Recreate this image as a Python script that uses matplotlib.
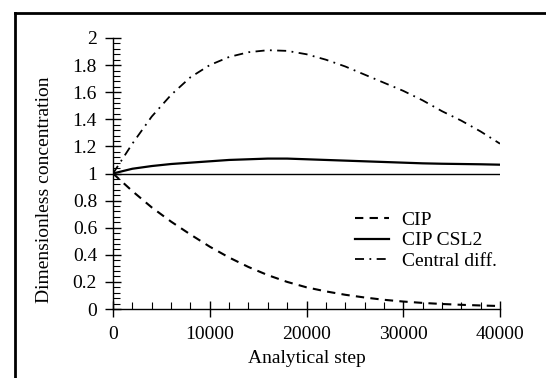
import matplotlib
matplotlib.use("Agg")
import matplotlib.pyplot as plt
from matplotlib.ticker import MultipleLocator
from matplotlib.lines import Line2D

plt.rcParams['font.family'] = ['Liberation Serif', 'DejaVu Serif']

steps = [0, 2000, 4000, 6000, 8000, 10000, 12000, 14000, 16000, 18000, 20000,
         22000, 24000, 26000, 28000, 30000, 32000, 34000, 36000, 38000, 40000]
cip = [1.0, 0.87, 0.75, 0.645, 0.55, 0.46, 0.38, 0.31, 0.25, 0.20, 0.16,
       0.13, 0.105, 0.085, 0.068, 0.055, 0.045, 0.037, 0.031, 0.026, 0.022]
cip_csl2 = [1.0, 1.035, 1.055, 1.07, 1.08, 1.09, 1.10, 1.105, 1.11, 1.11, 1.105,
            1.10, 1.095, 1.09, 1.085, 1.08, 1.075, 1.072, 1.07, 1.068, 1.065]
central = [1.0, 1.22, 1.42, 1.58, 1.71, 1.80, 1.86, 1.895, 1.91, 1.905, 1.88,
           1.84, 1.79, 1.73, 1.67, 1.61, 1.54, 1.46, 1.39, 1.31, 1.22]
reference_level = 1.0

labels = ['CIP', 'CIP CSL2', 'Central diff.']
xticks = [0, 10000, 20000, 30000, 40000]
yticks = [0, 0.2, 0.4, 0.6, 0.8, 1, 1.2, 1.4, 1.6, 1.8, 2]
ytick_labels = ['0', '0.2', '0.4', '0.6', '0.8', '1', '1.2', '1.4', '1.6', '1.8', '2']

fig = plt.figure(figsize=(5.46, 3.78), dpi=100)
ax = fig.add_axes([113/546, 1 - 309/378, (500 - 113)/546, (309 - 38)/378])

ax.plot(steps, cip, color='black', lw=1.5, linestyle=(0, (4, 3)), label=labels[0])
ax.plot(steps, cip_csl2, color='black', lw=1.6, linestyle='-', label=labels[1])
ax.plot(steps, central, color='black', lw=1.3, linestyle=(0, (5, 3, 1, 3)), label=labels[2])
ax.plot([steps[0], steps[-1]], [reference_level, reference_level], color='black', lw=1.0)

ax.set_xlim(0, 40000)
ax.set_ylim(0, 2)
ax.set_xticks(xticks)
ax.set_xticklabels([str(v) for v in xticks])
ax.set_yticks(yticks)
ax.set_yticklabels(ytick_labels)
ax.xaxis.set_minor_locator(MultipleLocator(2000))
ax.yaxis.set_minor_locator(MultipleLocator(0.04))

for s in ['top', 'right']:
    ax.spines[s].set_visible(False)
for s in ['left', 'bottom']:
    ax.spines[s].set_linewidth(1.0)

ax.tick_params(axis='both', which='major', direction='inout', length=11, width=1.0,
               labelsize=14, colors='black')
ax.tick_params(axis='both', which='minor', direction='in', length=5, width=0.8)
ax.tick_params(axis='y', which='major', pad=6)
ax.tick_params(axis='x', which='major', pad=7)

ax.set_xlabel('Analytical step', fontsize=14, labelpad=5)
ax.set_ylabel('Dimensionless concentration', fontsize=14, labelpad=10)
ax.yaxis.set_label_coords(-0.155, 0.44)

ax.legend(loc='upper left', bbox_to_anchor=(0.6, 0.395), frameon=False, fontsize=14,
          handlelength=1.75, handletextpad=0.65, labelspacing=0.13, borderpad=0)

# outer frame
fig.add_artist(Line2D([15/546, 15/546], [0, 1 - 13/378], color='black', lw=2,
                      transform=fig.transFigure))
fig.add_artist(Line2D([15/546, 1], [1 - 13/378, 1 - 13/378], color='black', lw=2,
                      transform=fig.transFigure))

fig.savefig('out.png', dpi=100)
